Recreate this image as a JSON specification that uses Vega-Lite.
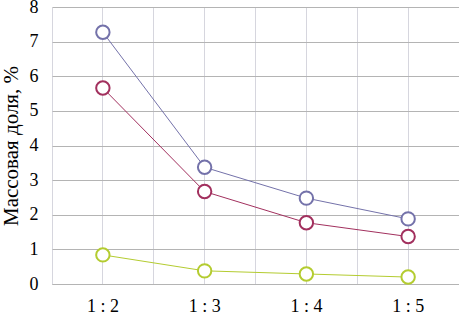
{
  "$schema": "https://vega.github.io/schema/vega-lite/v6.json",
  "width": 407,
  "height": 277,
  "autosize": "none",
  "padding": {"left": 52, "top": 7, "right": 0, "bottom": 38},
  "background": "white",
  "config": {
    "view": {"stroke": null},
    "font": "Liberation Serif",
    "style": {"guide-label": {"font": "Liberation Serif", "fontSize": 18, "fill": "#000000"}, "guide-title": {"font": "Liberation Serif"}},
    "axis": {"labelFont": "Liberation Serif", "labelFontSize": 18, "labelColor": "#000000", "titleFont": "Liberation Serif"},
    "axisY": {"labelFont": "Liberation Serif"},
    "axisLeft": {"labelFont": "Liberation Serif"}
  },
  "data": {"values": [
    {"ratio": "1 : 2", "series": "A", "value": 7.27},
    {"ratio": "1 : 3", "series": "A", "value": 3.37},
    {"ratio": "1 : 4", "series": "A", "value": 2.48},
    {"ratio": "1 : 5", "series": "A", "value": 1.88},
    {"ratio": "1 : 2", "series": "B", "value": 5.66},
    {"ratio": "1 : 3", "series": "B", "value": 2.67},
    {"ratio": "1 : 4", "series": "B", "value": 1.77},
    {"ratio": "1 : 5", "series": "B", "value": 1.37},
    {"ratio": "1 : 2", "series": "C", "value": 0.84},
    {"ratio": "1 : 3", "series": "C", "value": 0.38},
    {"ratio": "1 : 4", "series": "C", "value": 0.29},
    {"ratio": "1 : 5", "series": "C", "value": 0.2}
  ]},
  "resolve": {"axis": {"x": "independent"}},
  "encoding": {
    "y": {"field": "value", "type": "quantitative",
          "scale": {"domain": [0, 8], "nice": false},
          "axis": {"title": "Массовая доля, %", "titleFont": "Liberation Serif", "titleFontSize": 21, "titleFontWeight": "normal",
                   "titleColor": "#000000", "titlePadding": 8, "labelOverlap": false,
                   "values": [0, 1, 2, 3, 4, 5, 6, 7, 8], "ticks": false, "domain": false,
                   "grid": true, "gridColor": "#b4b4b4",
                   "labelFont": "Liberation Serif", "labelFontSize": 18, "labelColor": "#000000", "labelPadding": 14}},
    "color": {"field": "series", "type": "nominal", "legend": null,
              "scale": {"domain": ["A", "B", "C"], "range": ["#7472aa", "#a2305e", "#b4cc30"]}}
  },
  "layer": [
    {
      "mark": {"type": "point", "opacity": 0},
      "encoding": {
        "x": {"field": "ratio", "type": "nominal", "sort": null,
              "scale": {"type": "band", "paddingInner": 0, "paddingOuter": 0},
              "axis": {"orient": "bottom", "title": null, "labels": false, "ticks": false, "domain": false,
                       "grid": true, "bandPosition": 0, "gridColor": "#d6d6de", "gridWidth": 1}}
      }
    },
    {
      "mark": {"type": "line", "strokeWidth": 1},
      "encoding": {
        "x": {"field": "ratio", "type": "nominal", "sort": null,
              "axis": {"orient": "bottom", "title": null, "labelAngle": 0, "ticks": false, "domain": true, "domainColor": "#b4b4b4",
                       "grid": true, "bandPosition": 0.5, "gridColor": "#d6d6de",
                       "labelFont": "Liberation Serif", "labelFontSize": 18, "labelColor": "#000000", "labelPadding": 13}}
      }
    },
    {
      "mark": {"type": "point", "filled": false, "fill": "white", "fillOpacity": 1, "size": 180, "strokeWidth": 2, "opacity": 1},
      "encoding": {
        "x": {"field": "ratio", "type": "nominal", "sort": null, "axis": null}
      }
    }
  ]
}
